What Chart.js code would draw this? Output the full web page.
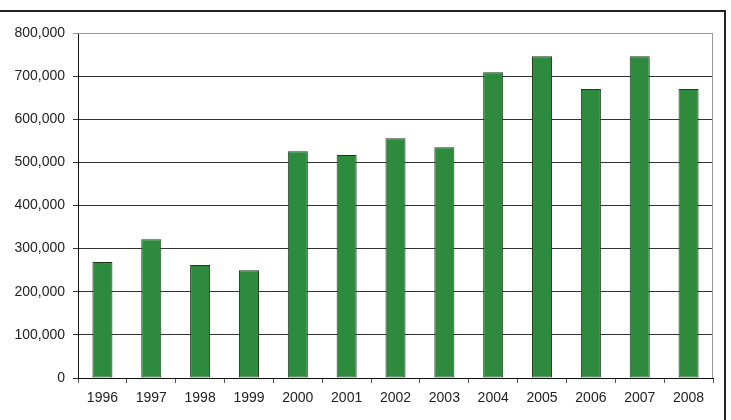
<!DOCTYPE html>
<html>
<head>
<meta charset="utf-8">
<script src="https://cdn.jsdelivr.net/npm/chart.js@4"></script>
<style>
  html, body { margin: 0; padding: 0; background: #fff; }
  #wrap { position: relative; width: 731px; height: 420px; }
  #frame { position: absolute; left: 0; top: 10px; width: 726px; height: 420px;
           border-top: 2px solid #222; border-right: 2px solid #222; box-sizing: border-box; }
  canvas { position: absolute; left: 0; top: 0; }
</style>
</head>
<body>
<div id="wrap">
  <div id="frame"></div>
  <canvas id="barChart" width="731" height="420"></canvas>
</div>
<script>
// year categories and values
const years = ["1996", "1997", "1998", "1999", "2000", "2001", "2002", "2003", "2004", "2005", "2006", "2007", "2008"];
const values = [269000, 322000, 262000, 250000, 526000, 517000, 556000, 535000, 709000, 746000, 670000, 746000, 670000];
const yTicks = [0, 100000, 200000, 300000, 400000, 500000, 600000, 700000, 800000];

// gray frame on top and right of the plot area
const plotFrame = {
  id: "plotFrame",
  afterDatasetsDraw(chart) {
    const { ctx, chartArea: a } = chart;
    ctx.save();
    ctx.strokeStyle = "#999";
    ctx.lineWidth = 1;
    ctx.beginPath();
    ctx.moveTo(a.left, a.top + 0.5);
    ctx.lineTo(a.right - 0.5, a.top + 0.5);
    ctx.lineTo(a.right - 0.5, a.bottom);
    ctx.stroke();
    ctx.restore();
  }
};

const font = { family: "Liberation Sans, Arial", size: 14 };

new Chart(document.getElementById("barChart"), {
  type: "bar",
  data: {
    labels: years,
    datasets: [{
      data: values,
      backgroundColor: "#2e8b3d",
      borderColor: "#1c3a1e",
      borderWidth: 1,
      borderSkipped: false,
      barPercentage: 0.41,
      categoryPercentage: 1
    }]
  },
  options: {
    responsive: false,
    animation: false,
    layout: { padding: { left: 0, top: 33, right: 18, bottom: 0 } },
    plugins: { legend: { display: false }, tooltip: { enabled: false } },
    scales: {
      x: {
        offset: true,
        afterFit(scale) { scale.height = 42; },
        grid: { offset: true, drawOnChartArea: false, tickLength: 5, color: "#555" },
        border: { color: "#111", width: 1 },
        ticks: { color: "#222", padding: 7, font: font }
      },
      y: {
        min: 0,
        max: 800000,
        afterFit(scale) { scale.width = 78; },
        afterBuildTicks(scale) { scale.ticks = yTicks.map(v => ({ value: v })); },
        grid: {
          tickLength: 5,
          color: ctx => (ctx.tick && ctx.tick.value === 800000) ? "#999" : "#333"
        },
        border: { color: "#111", width: 1 },
        ticks: {
          color: "#222",
          padding: 8,
          font: font,
          callback: v => v.toLocaleString("en-US")
        }
      }
    }
  },
  plugins: [plotFrame]
});
</script>
</body>
</html>
